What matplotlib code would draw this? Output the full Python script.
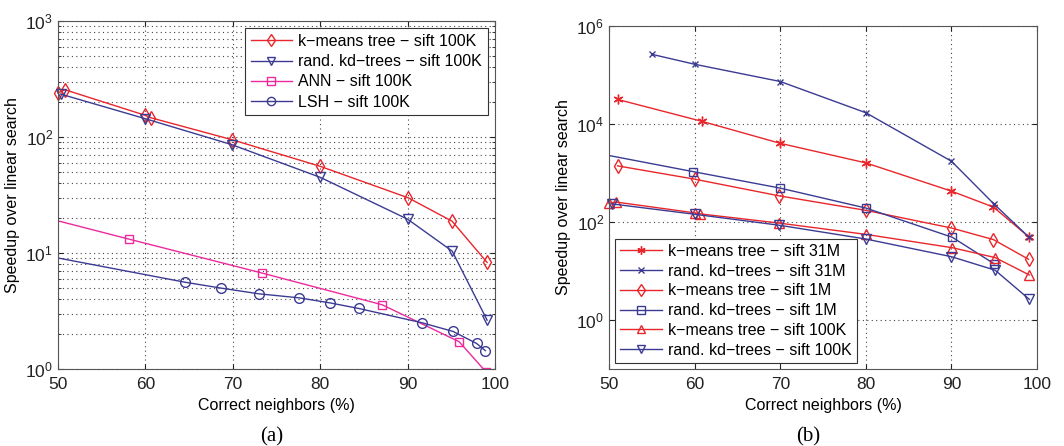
import matplotlib
matplotlib.use("Agg")
import matplotlib.pyplot as plt
from matplotlib.ticker import LogLocator, NullFormatter, FixedLocator, LogFormatterSciNotation

plt.rcParams['font.family'] = ['Liberation Sans', 'DejaVu Sans']
plt.rcParams['mathtext.fontset'] = 'custom'
plt.rcParams['mathtext.rm'] = 'Liberation Sans'
plt.rcParams['mathtext.it'] = 'Liberation Sans'

RED = '#e8262b'
BLUE = '#3b3b94'
MAGENTA = '#ec2a9c'

# ---- (a) sift 100K ----
km100_x = [50.0, 50.8, 60.0, 60.6, 69.9, 80.0, 90.1, 95.1, 99.1]
km100_y = [241, 256, 154, 147, 95, 56, 29.9, 18.8, 8.3]
kd100_x = [50.3, 60.0, 69.9, 80.0, 90.0, 95.1, 99.1]
kd100_y = [235, 144, 86, 45, 19.6, 10.4, 2.64]
ann_x = [45.0, 58.1, 73.3, 87.1, 95.9, 99.0]
ann_y = [23.7, 13.2, 6.74, 3.58, 1.72, 0.94]
lsh_x = [45.0, 64.5, 68.7, 73.0, 77.6, 81.1, 84.4, 91.6, 95.2, 97.9, 98.9]
lsh_y = [10.7, 5.61, 4.98, 4.45, 4.11, 3.72, 3.33, 2.51, 2.11, 1.66, 1.44]

# ---- (b) sift 31M / 1M ----
km31_x = [51.0, 60.9, 70.0, 80.0, 90.0, 94.9, 99.0]
km31_y = [31800, 11300, 4040, 1610, 427, 202, 50.4]
kd31_x = [55.0, 60.0, 70.0, 80.0, 90.0, 95.0, 99.0]
kd31_y = [265000, 166000, 73800, 17000, 1740, 230, 50]
km1m_x = [51.0, 60.0, 69.8, 80.0, 90.0, 94.9, 99.0]
km1m_y = [1400, 750, 344, 173, 75.5, 43.8, 17.4]
kd1m_x = [45.0, 59.8, 70.0, 80.0, 90.1, 95.0]
kd1m_y = [3350, 1070, 492, 193, 48.8, 14.0]

xticks = [50, 60, 70, 80, 90, 100]

fig = plt.figure(figsize=(10.64, 4.46), dpi=100)
ax1 = fig.add_axes([0.0545, 0.1726, 0.4107, 0.780])
ax2 = fig.add_axes([0.5724, 0.1726, 0.4023, 0.769])

kw = dict(lw=1.0, mfc='none', mew=1.0, ms=7)

# lines starting inside the box keep their markers unclipped (like MATLAB)
ax1.plot(km100_x, km100_y, marker='d', color=RED, clip_on=False,
         label='k\u2212means tree \u2212 sift 100K', **kw)
ax1.plot(kd100_x, kd100_y, marker='v', color=BLUE, clip_on=False,
         label='rand. kd\u2212trees \u2212 sift 100K', **kw)
ax1.plot(ann_x, ann_y, marker='s', color=MAGENTA, label='ANN \u2212 sift 100K',
         lw=1.0, mfc='none', mew=1.0, ms=6)
ax1.plot(lsh_x, lsh_y, marker='o', color=BLUE, label='LSH \u2212 sift 100K', **kw)

ax1.set_yscale('log')
ax1.set_xlim(50, 100)
ax1.set_ylim(1, 1000)
ax1.set_xticks(xticks)
ax1.yaxis.set_major_locator(LogLocator(base=10, numticks=10))
ax1.yaxis.set_minor_locator(LogLocator(base=10, subs=range(2, 10), numticks=20))
ax1.yaxis.set_minor_formatter(NullFormatter())
ax1.grid(True, which='major', ls=(0, (1, 3)), color='#444444', lw=0.8)
ax1.grid(True, which='minor', axis='y', ls=(0, (1, 3)), color='#444444', lw=0.8)
ax1.set_xlabel('Correct neighbors (%)', fontsize=11.5)
ax1.set_ylabel('Speedup over linear search', fontsize=11.5)
leg1 = ax1.legend(loc='upper right', fontsize=11.5, fancybox=False, framealpha=1,
                  edgecolor='#333333', borderaxespad=0.45, handlelength=2.6,
                  labelspacing=0.33, borderpad=0.35, handletextpad=0.4,
                  markerscale=0.85)
leg1.get_frame().set_linewidth(0.8)

ax2.plot(km31_x, km31_y, marker=(6, 2, 0), color=RED, label='k\u2212means tree \u2212 sift 31M',
         lw=1.0, mew=1.0, ms=7)
ax2.plot(kd31_x, kd31_y, marker='x', color=BLUE, label='rand. kd\u2212trees \u2212 sift 31M',
         lw=1.0, mew=1.0, ms=5)
ax2.plot(km1m_x, km1m_y, marker='d', color=RED, label='k\u2212means tree \u2212 sift 1M', **kw)
ax2.plot(kd1m_x, kd1m_y, marker='s', color=BLUE, label='rand. kd\u2212trees \u2212 sift 1M',
         lw=1.0, mfc='none', mew=1.0, ms=6)
ax2.plot(km100_x, km100_y, marker='^', color=RED, clip_on=False,
         label='k\u2212means tree \u2212 sift 100K', **kw)
ax2.plot(kd100_x, kd100_y, marker='v', color=BLUE, clip_on=False,
         label='rand. kd\u2212trees \u2212 sift 100K', **kw)

ax2.set_yscale('log')
ax2.set_xlim(50, 100)
ax2.set_ylim(0.1, 1e6)
ax2.set_xticks(xticks)
ax2.yaxis.set_major_locator(FixedLocator([1, 1e2, 1e4, 1e6]))
ax2.yaxis.set_minor_locator(FixedLocator([]))
ax2.yaxis.set_major_formatter(LogFormatterSciNotation())
ax2.grid(True, which='major', ls=(0, (1, 3)), color='#444444', lw=0.8)
ax2.set_xlabel('Correct neighbors (%)', fontsize=11.5)
ax2.set_ylabel('Speedup over linear search', fontsize=11.5)
leg2 = ax2.legend(loc='lower left', fontsize=11.5, fancybox=False, framealpha=1,
                  edgecolor='#333333', borderaxespad=0.4, handlelength=2.6,
                  labelspacing=0.3, borderpad=0.3, handletextpad=0.4,
                  markerscale=0.85)
leg2.get_frame().set_linewidth(0.8)

for ax in (ax1, ax2):
    ax.set_axisbelow(True)
    ax.tick_params(which='both', direction='in', top=True, right=True,
                   labelsize=12.5, colors='#222222')
    ax.tick_params(axis='x', pad=6)
    ax.tick_params(which='minor', length=2)
    for s in ax.spines.values():
        s.set_color('#555555')
        s.set_linewidth(0.8)

fig.text(0.2556, 0.01, '(a)', family='Liberation Serif', fontsize=15, ha='center')
fig.text(0.7594, 0.01, '(b)', family='Liberation Serif', fontsize=15, ha='center')

fig.savefig('out.png', dpi=100)
